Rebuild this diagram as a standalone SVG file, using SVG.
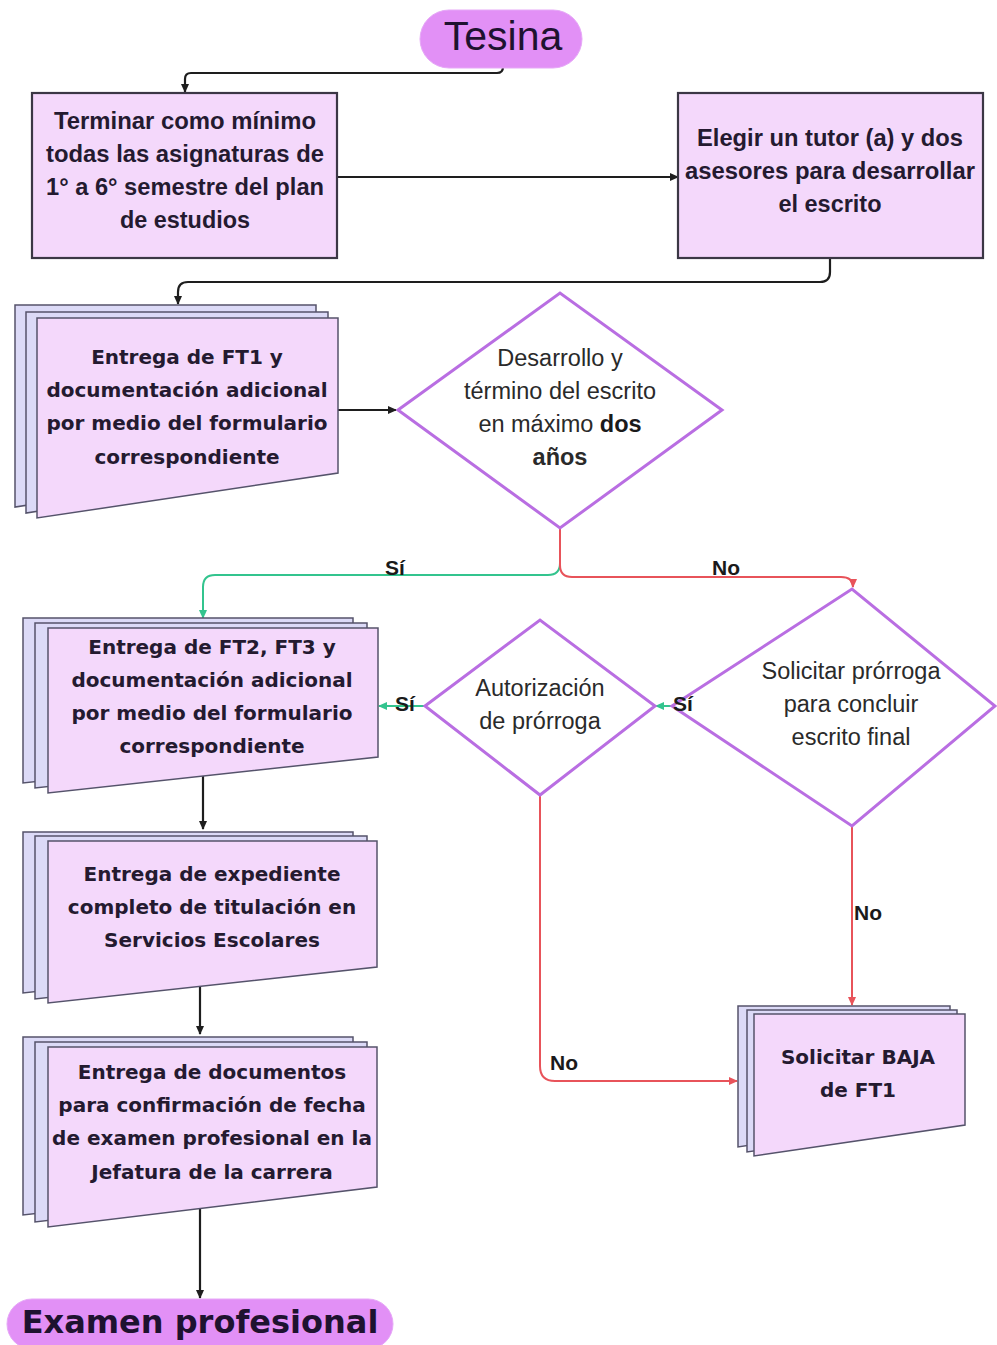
<svg xmlns="http://www.w3.org/2000/svg" width="997" height="1345" viewBox="0 0 997 1345">
<defs>
<style>
.pill{fill:#e290f6;stroke:#e6a8f7;stroke-width:1}
.box{fill:#f4d8fb;stroke:#3b3745;stroke-width:2.2}
.back{fill:#dcdaf7;stroke:#55536b;stroke-width:1.5}
.front{fill:#f4d8fb;stroke:#55536b;stroke-width:1.5}
.dia{fill:#ffffff;stroke:#b96ee2;stroke-width:3}
.tb{font-family:"Liberation Sans",Arial,sans-serif;font-weight:bold;font-size:23px;fill:#241a30;text-anchor:middle}
.td{font-family:"DejaVu Sans",Verdana,sans-serif;font-weight:bold;font-size:20px;fill:#241a30;text-anchor:middle}
.tr{font-family:"Liberation Sans",Arial,sans-serif;font-size:23.5px;fill:#2a2a2a;text-anchor:middle}
.lab{font-family:"Liberation Sans",Arial,sans-serif;font-weight:bold;font-size:21px;fill:#1a1a1a;text-anchor:middle}
.k{fill:none;stroke:#1e1e1e;stroke-width:2.2}
.g{fill:none;stroke:#33c48e;stroke-width:2}
.r{fill:none;stroke:#e8535a;stroke-width:2}
</style>
<marker id="ak" markerWidth="10" markerHeight="10" refX="8" refY="5" orient="auto" markerUnits="userSpaceOnUse"><path d="M0,1 L9,5 L0,9 Z" fill="#1e1e1e"/></marker>
<marker id="ag" markerWidth="10" markerHeight="10" refX="8" refY="5" orient="auto" markerUnits="userSpaceOnUse"><path d="M0,1 L9,5 L0,9 Z" fill="#33c48e"/></marker>
<marker id="ar" markerWidth="10" markerHeight="10" refX="8" refY="5" orient="auto" markerUnits="userSpaceOnUse"><path d="M0,1 L9,5 L0,9 Z" fill="#e8535a"/></marker>
</defs>
<rect width="997" height="1345" fill="#ffffff"/>

<g id="connectors">
<path class="k" d="M503,68 V67 Q503,73 497,73 H191 Q185,73 185,79 V92" marker-end="url(#ak)"/>
<path class="k" d="M337,177 H678" marker-end="url(#ak)"/>
<path class="k" d="M830,258 V272 Q830,282 820,282 H188 Q178,282 178,292 V304" marker-end="url(#ak)"/>
<path class="k" d="M338,410 H396" marker-end="url(#ak)"/>
<path class="g" d="M560,528 V563 Q560,575 548,575 H215 Q203,575 203,587 V618" marker-end="url(#ag)"/>
<path class="r" d="M560,528 V565 Q560,577 572,577 H841 Q853,577 853,587" marker-end="url(#ar)"/>
<path class="g" d="M672,706 H656" marker-end="url(#ag)"/>
<path class="g" d="M425,706 H379" marker-end="url(#ag)"/>
<path class="r" d="M852,826 V1005" marker-end="url(#ar)"/>
<path class="r" d="M540,795 V1066 Q540,1081 555,1081 H737" marker-end="url(#ar)"/>
<path class="k" d="M203,776 V829" marker-end="url(#ak)"/>
<path class="k" d="M200,986 V1034" marker-end="url(#ak)"/>
<path class="k" d="M200,1208 V1298" marker-end="url(#ak)"/>
</g>

<g id="tesina">
<rect class="pill" x="420" y="10" width="162" height="58" rx="29"/>
<text x="503" y="50" font-family="Liberation Sans, Arial, sans-serif" font-size="41" fill="#1e1230" text-anchor="middle">Tesina</text>
</g>

<g id="terminar">
<rect class="box" x="32" y="93" width="305" height="165"/>
<text class="tb" x="185" y="129" textLength="262" lengthAdjust="spacingAndGlyphs">Terminar como mínimo</text>
<text class="tb" x="185" y="162" textLength="278" lengthAdjust="spacingAndGlyphs">todas las asignaturas de</text>
<text class="tb" x="185" y="195" textLength="278" lengthAdjust="spacingAndGlyphs">1° a 6° semestre del plan</text>
<text class="tb" x="185" y="228" textLength="130" lengthAdjust="spacingAndGlyphs">de estudios</text>
</g>

<g id="elegir">
<rect class="box" x="678" y="93" width="305" height="165"/>
<text class="tb" x="830" y="146" textLength="266" lengthAdjust="spacingAndGlyphs">Elegir un tutor (a) y dos</text>
<text class="tb" x="830" y="179" textLength="290" lengthAdjust="spacingAndGlyphs">asesores para desarrollar</text>
<text class="tb" x="830" y="212" textLength="103" lengthAdjust="spacingAndGlyphs">el escrito</text>
</g>

<g id="ft1">
<polygon class="back" points="15,305 316,305 316,460 15,507"/>
<polygon class="back" points="26,312 328,312 328,466 26,513"/>
<polygon class="front" points="37,318 338,318 338,473 37,518"/>
<text class="td" x="187" y="364">Entrega de FT1 y</text>
<text class="td" x="187" y="397">documentación adicional</text>
<text class="td" x="187" y="430">por medio del formulario</text>
<text class="td" x="187" y="464">correspondiente</text>
</g>

<g id="desarrollo">
<polygon class="dia" points="398,410 560,293 722,410 560,528"/>
<text class="tr" x="560" y="366">Desarrollo y</text>
<text class="tr" x="560" y="399">término del escrito</text>
<text class="tr" x="560" y="432">en máximo <tspan font-weight="bold" fill="#1a1a1a">dos</tspan></text>
<text class="tr" x="560" y="465" font-weight="bold" fill="#1a1a1a">años</text>
</g>

<g id="ft2">
<polygon class="back" points="23,618 353,618 353,747 23,783"/>
<polygon class="back" points="35,623 367,623 367,752 35,788"/>
<polygon class="front" points="48,628 378,628 378,757 48,793"/>
<text class="td" x="212" y="654">Entrega de FT2, FT3 y</text>
<text class="td" x="212" y="687">documentación adicional</text>
<text class="td" x="212" y="720">por medio del formulario</text>
<text class="td" x="212" y="753">correspondiente</text>
</g>

<g id="autorizacion">
<polygon class="dia" points="425,706 540,620 655,706 540,795"/>
<text class="tr" x="540" y="696">Autorización</text>
<text class="tr" x="540" y="729">de prórroga</text>
</g>

<g id="solicitar-prorroga">
<polygon class="dia" points="672,706 852,589 995,706 852,826"/>
<text class="tr" x="851" y="679">Solicitar prórroga</text>
<text class="tr" x="851" y="712">para concluir</text>
<text class="tr" x="851" y="745">escrito final</text>
</g>

<g id="expediente">
<polygon class="back" points="23,832 353,832 353,957 23,993"/>
<polygon class="back" points="35,836 367,836 367,962 35,999"/>
<polygon class="front" points="48,841 377,841 377,967 48,1003"/>
<text class="td" x="212" y="881">Entrega de expediente</text>
<text class="td" x="212" y="914">completo de titulación en</text>
<text class="td" x="212" y="947">Servicios Escolares</text>
</g>

<g id="baja">
<polygon class="back" points="738,1006 950,1006 950,1115 738,1147"/>
<polygon class="back" points="747,1010 957,1010 957,1120 747,1152"/>
<polygon class="front" points="754,1014 965,1014 965,1125 754,1156"/>
<text class="td" x="858" y="1064">Solicitar BAJA</text>
<text class="td" x="858" y="1097">de FT1</text>
</g>

<g id="documentos">
<polygon class="back" points="23,1037 353,1037 353,1178 23,1215"/>
<polygon class="back" points="35,1042 367,1042 367,1183 35,1222"/>
<polygon class="front" points="48,1047 377,1047 377,1187 48,1227"/>
<text class="td" x="212" y="1079">Entrega de documentos</text>
<text class="td" x="212" y="1112">para confirmación de fecha</text>
<text class="td" x="212" y="1145">de examen profesional en la</text>
<text class="td" x="212" y="1179">Jefatura de la carrera</text>
</g>

<g id="examen">
<rect class="pill" x="7" y="1299" width="386" height="50" rx="25"/>
<text x="200" y="1333" font-family="DejaVu Sans, Verdana, sans-serif" font-weight="bold" font-size="32" fill="#1e1230" text-anchor="middle">Examen profesional</text>
</g>

<g id="connector-labels">
<text class="lab" x="395" y="575">Sí</text>
<text class="lab" x="726" y="575">No</text>
<text class="lab" x="405" y="711">Sí</text>
<text class="lab" x="683" y="711">Sí</text>
<text class="lab" x="868" y="920">No</text>
<text class="lab" x="564" y="1070">No</text>
</g>
</svg>
